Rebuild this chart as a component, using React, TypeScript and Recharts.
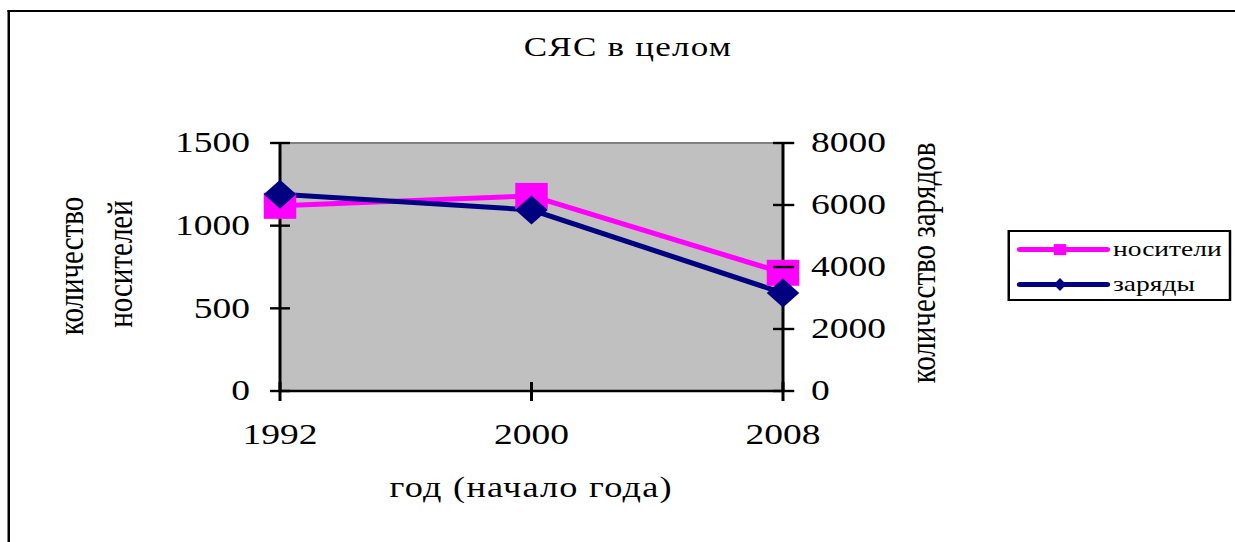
import React from "react";
import {
  LineChart,
  Line,
  XAxis,
  YAxis,
  CartesianGrid,
  Legend,
  ReferenceLine,
} from "recharts";

const years = ["1992", "2000", "2008"];
const carriers = [1120, 1180, 715];
const warheads = [6350, 5840, 3160];
const leftTicks = [0, 500, 1000, 1500];
const rightTicks = [0, 2000, 4000, 6000, 8000];

const data = years.map((year, i) => ({
  year,
  carriers: carriers[i],
  warheads: warheads[i],
}));

// the reference is stretched horizontally, so the whole chart is drawn narrow and scaled
const SX = 1.25;
const W = 988;
const H = 542;
const serif = '"Liberation Serif", "Times New Roman", serif';
const PINK = "#ff00ff";
const NAVY = "#000080";

const SquareDot = ({ cx, cy }: any) => (
  <rect x={cx - 13} y={cy - 13} width={26} height={26} fill={PINK} />
);

const DiamondDot = ({ cx, cy }: any) => (
  <polygon
    points={`${cx},${cy - 14.5} ${cx + 13},${cy} ${cx},${cy + 14.5} ${cx - 13},${cy}`}
    fill={NAVY}
  />
);

const LeftTick = ({ x, y, payload }: any) => (
  <g>
    <line x1={x - 8} x2={x + 8} y1={y} y2={y} stroke="#000" strokeWidth={2.4} />
    <text x={x - 24} y={y} dy={9.5} textAnchor="end" fontSize={30} fontFamily={serif} fill="#000">
      {payload.value}
    </text>
  </g>
);

const RightTick = ({ x, y, payload }: any) => (
  <g>
    <line x1={x - 8} x2={x + 9} y1={y} y2={y} stroke="#000" strokeWidth={2.4} />
    <text x={x + 22.4} y={y} dy={9} textAnchor="start" fontSize={30} fontFamily={serif} fill="#000">
      {payload.value}
    </text>
  </g>
);

const XTick = ({ x, y, payload }: any) => (
  <g>
    <line x1={x} x2={x} y1={y - 9} y2={y + 10} stroke="#000" strokeWidth={2.4} />
    <text x={x} y={y + 53} textAnchor="middle" fontSize={30} fontFamily={serif} fill="#000">
      {payload.value}
    </text>
  </g>
);

const LeftTitle = () => (
  <g fontSize={29} fontFamily={serif} fill="#000">
    <text transform="translate(66.4,266) rotate(-90)" textAnchor="middle">
      количество
    </text>
    <text transform="translate(105.6,264) rotate(-90)" textAnchor="middle">
      носителей
    </text>
  </g>
);

const RightTitle = () => (
  <text
    transform="translate(748,263) rotate(-90)"
    textAnchor="middle"
    fontSize={29}
    fontFamily={serif}
    fill="#000"
  >
    количество зарядов
  </text>
);

const XTitle = () => (
  <text
    x={425}
    y={497}
    textAnchor="middle"
    fontSize={29}
    letterSpacing={1}
    fontFamily={serif}
    fill="#000"
  >
    год (начало года)
  </text>
);

const legendOrder = ["carriers", "warheads"];

const LegendBox = ({ payload }: any) => (
  <svg width={174} height={66} style={{ display: "block" }}>
    {legendOrder.map((key, i) => {
      const e = (payload || []).find((p: any) => p.dataKey === key);
      if (!e) return null;
      const y = 17.6 + i * 35;
      return (
        <g key={key}>
          <line x1={8} x2={77.6} y1={y} y2={y} stroke={e.color} strokeWidth={5} strokeLinecap="round" />
          {key === "carriers" ? (
            <rect x={35} y={y - 5.5} width={10} height={11} fill={e.color} />
          ) : (
            <polygon points={`40,${y - 6.5} 45,${y} 40,${y + 6.5} 35,${y}`} fill={e.color} />
          )}
          <text x={82.4} y={y + 6.8} fontSize={22} fontFamily={serif} fill="#000">
            {e.value}
          </text>
        </g>
      );
    })}
  </svg>
);

const App = () => {
  return (
    <div
      style={{
        position: "absolute",
        left: 0,
        top: 0,
        width: 1235,
        height: 542,
        overflow: "hidden",
        background: "#fff",
      }}
    >
      <div
        style={{
          position: "absolute",
          left: 0,
          top: 0,
          width: W,
          height: H,
          transform: `scaleX(${SX})`,
          transformOrigin: "0 0",
          fontFamily: serif,
        }}
      >
        <div
          style={{
            position: "absolute",
            left: 5.8,
            top: 10,
            width: 1000,
            height: 1000,
            borderLeft: "2.7px solid #000",
            borderTop: "2.7px solid #000",
          }}
        />
        <div
          style={{
            position: "absolute",
            left: 352.4,
            width: 300,
            top: 33.2,
            textAlign: "center",
            fontSize: 28,
            lineHeight: "28px",
            letterSpacing: 1,
            whiteSpace: "nowrap",
            color: "#000",
          }}
        >
          СЯС в целом
        </div>
        {/* the legend box is measured after scaling (179 * 1.25), so the right margin is reduced to suit */}
        <LineChart
          width={W}
          height={H}
          data={data}
          margin={{ top: 143, right: 17.85, bottom: 91, left: 24 }}
        >
          <CartesianGrid yAxisId="left" fill="#c0c0c0" horizontal={false} vertical={false} />
          <XAxis
            dataKey="year"
            interval={0}
            padding={{ left: 0, right: 0 }}
            height={60}
            axisLine={{ stroke: "#000", strokeWidth: 2.5 }}
            tickLine={false}
            tickSize={0}
            tickMargin={0}
            tick={<XTick />}
            label={{ content: () => <XTitle /> }}
          />
          <YAxis
            yAxisId="left"
            domain={[0, 1500]}
            ticks={leftTicks}
            width={200}
            axisLine={{ stroke: "#000", strokeWidth: 2.4 }}
            tickLine={false}
            tickSize={0}
            tickMargin={0}
            tick={<LeftTick />}
            label={{ content: () => <LeftTitle /> }}
          />
          <YAxis
            yAxisId="right"
            orientation="right"
            domain={[0, 8000]}
            ticks={rightTicks}
            width={120}
            axisLine={{ stroke: "#000", strokeWidth: 2.4 }}
            tickLine={false}
            tickSize={0}
            tickMargin={0}
            tick={<RightTick />}
            label={{ content: () => <RightTitle /> }}
          />
          <ReferenceLine yAxisId="left" y={1500} stroke="#808080" strokeWidth={2} />
          <Legend
            layout="vertical"
            align="right"
            verticalAlign="top"
            content={<LegendBox />}
            wrapperStyle={{
              left: 805.6,
              top: 230,
              width: 179,
              height: 71,
              boxSizing: "border-box",
              border: "2.4px solid #000",
              background: "#fff",
            }}
          />
          <Line
            yAxisId="left"
            type="linear"
            dataKey="carriers"
            name="носители"
            stroke={PINK}
            strokeWidth={5}
            dot={<SquareDot />}
            activeDot={false}
            isAnimationActive={false}
          />
          <Line
            yAxisId="right"
            type="linear"
            dataKey="warheads"
            name="заряды"
            stroke={NAVY}
            strokeWidth={5}
            dot={<DiamondDot />}
            activeDot={false}
            isAnimationActive={false}
          />
        </LineChart>
      </div>
    </div>
  );
};

export default App;
